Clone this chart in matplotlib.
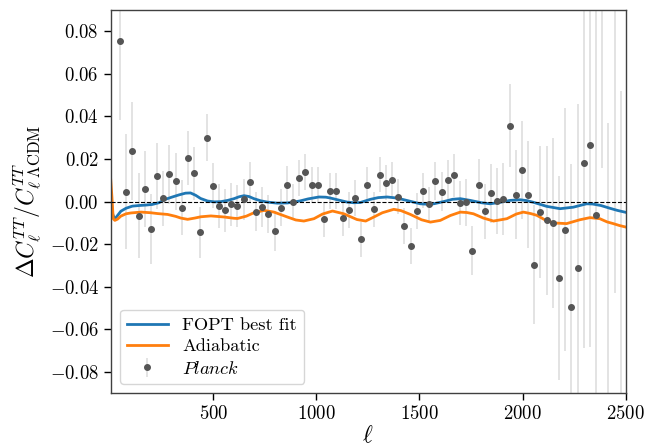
import numpy as np
import matplotlib
matplotlib.use("Agg")
import matplotlib.pyplot as plt

plt.rcParams['font.family'] = 'serif'
plt.rcParams['font.serif'] = ['cmr10', 'DejaVu Serif']
plt.rcParams['mathtext.fontset'] = 'cm'
plt.rcParams['axes.formatter.use_mathtext'] = True
plt.rcParams['axes.unicode_minus'] = True

# model curves
ell_fopt = [2, 12, 22, 35, 51, 76, 107, 140, 172, 204, 236, 270, 301, 334, 365, 389,
            414, 438, 472, 505, 536, 570, 600, 625, 649, 673, 697, 730, 762, 810, 859,
            890, 923, 960, 1012, 1046, 1068, 1110, 1149, 1180, 1213, 1262, 1300, 1343,
            1391, 1450, 1504, 1540, 1569, 1620, 1660, 1698, 1746, 1800, 1843, 1891, 1940,
            1988, 2020, 2053, 2117, 2182, 2246, 2311, 2340, 2380, 2424, 2460, 2500]
dcl_fopt = [0.002, -0.006, -0.0082, -0.0065, -0.0045, -0.0031, -0.0021, -0.0018, -0.0016,
            -0.0013, -0.0005, 0.0012, 0.0022, 0.0032, 0.0040, 0.0041, 0.0030, 0.0015,
            0.0003, -0.0001, 0.0, 0.0006, 0.0014, 0.0023, 0.0028, 0.0024, 0.0014, 0.0004,
            -0.0002, -0.0007, -0.0006, -0.0002, 0.0004, 0.0013, 0.0022, 0.0021, 0.0017,
            0.0007, -0.0002, -0.0005, -0.0004, 0.0011, 0.0019, 0.0022, 0.0017, 0.0003,
            -0.0010, -0.0012, -0.0010, 0.0001, 0.0011, 0.0014, 0.0006, -0.0005, -0.0010,
            -0.0003, 0.0006, 0.0009, 0.0005, -0.0003, -0.0022, -0.0033, -0.0026, -0.0010,
            -0.0011, -0.0018, -0.0031, -0.0041, -0.0050]

ell_adia = [2, 8, 14, 22, 35, 51, 76, 100, 149, 196, 230, 278, 317, 342, 375, 410, 439,
            488, 552, 600, 617, 660, 697, 746, 794, 859, 900, 939, 988, 1030, 1078, 1133,
            1197, 1239, 1279, 1320, 1375, 1410, 1456, 1510, 1553, 1601, 1650, 1698, 1730,
            1762, 1810, 1859, 1924, 1970, 2004, 2040, 2069, 2110, 2150, 2214, 2278, 2327,
            2375, 2410, 2440, 2470, 2500]
dcl_adia = [0.0103, 0.002, -0.0080, -0.0088, -0.0082, -0.0068, -0.0057, -0.0053, -0.0049,
            -0.0052, -0.0056, -0.0060, -0.0069, -0.0077, -0.0083, -0.0077, -0.0071, -0.0067,
            -0.0072, -0.0078, -0.0079, -0.0068, -0.0052, -0.0041, -0.0049, -0.0072, -0.0086,
            -0.0091, -0.0080, -0.0058, -0.0044, -0.0057, -0.0084, -0.0091, -0.0072, -0.0052,
            -0.0036, -0.0042, -0.0060, -0.0085, -0.0096, -0.0088, -0.0065, -0.0049, -0.0051,
            -0.0057, -0.0077, -0.0091, -0.0080, -0.0058, -0.0049, -0.0056, -0.0064, -0.0086,
            -0.0100, -0.0103, -0.0085, -0.0075, -0.0080, -0.0095, -0.0103, -0.0112, -0.0119]

# binned Planck residuals
ell_planck = [47, 77, 107, 137, 167, 197, 227, 257, 287, 317, 347, 377, 407, 437, 467,
              497, 527, 557, 587, 617, 647, 677, 707, 737, 767, 797, 827, 857, 887, 917,
              947, 977, 1007, 1037, 1067, 1097, 1127, 1157, 1187, 1217, 1247, 1277, 1307,
              1337, 1367, 1397, 1427, 1457, 1487, 1517, 1547, 1577, 1607, 1637, 1667, 1697,
              1727, 1757, 1787, 1817, 1847, 1877, 1907, 1937, 1967, 1997, 2027, 2057, 2087,
              2117, 2147, 2177, 2207, 2237, 2267, 2297, 2327, 2357, 2387, 2417, 2447, 2477]
dcl_planck = [0.0753, 0.0047, 0.0240, -0.0066, 0.0059, -0.0128, 0.0121, 0.0016, 0.0128,
              0.0096, -0.0028, 0.0204, 0.0133, -0.0144, 0.0301, 0.0075, -0.0020, -0.0041,
              -0.0013, -0.0020, 0.0011, 0.0091, -0.0047, -0.0025, -0.0058, -0.0139, -0.0028,
              0.0080, -0.0002, 0.0111, 0.0139, 0.0080, 0.0080, -0.0083, 0.0050, 0.0050,
              -0.0078, -0.0039, 0.0017, -0.0177, 0.0080, -0.0036, 0.0127, 0.0089, 0.0102,
              0.0023, -0.0116, -0.0208, -0.0044, 0.0052, -0.0013, 0.0096, 0.0047, 0.0103,
              0.0124, -0.0006, -0.0003, -0.0230, 0.0080, -0.0045, 0.0039, 0.0003, 0.0013,
              0.0357, 0.0033, 0.0147, 0.0033, -0.0296, -0.0050, -0.0088, -0.0099, -0.0359,
              -0.0132, -0.0495, -0.0312, 0.0183, 0.0268, -0.0064, 0.131, -0.098, 0.102, -0.103]
err_planck = [0.037, 0.027, 0.023, 0.020, 0.018, 0.0165, 0.0155, 0.013, 0.014, 0.0133,
              0.013, 0.0127, 0.0125, 0.012, 0.011, 0.0107, 0.0104, 0.0102, 0.010, 0.0098,
              0.0096, 0.0095, 0.0092, 0.0092, 0.009, 0.0095, 0.0088, 0.0087, 0.0086, 0.0085,
              0.0085, 0.0083, 0.0083, 0.0083, 0.0083, 0.0083, 0.0083, 0.0083, 0.0083, 0.0083,
              0.0083, 0.0083, 0.0083, 0.0083, 0.0083, 0.0083, 0.0084, 0.0084, 0.0084, 0.0084,
              0.0084, 0.0088, 0.009, 0.0095, 0.010, 0.0105, 0.011, 0.0115, 0.012, 0.013,
              0.014, 0.0155, 0.017, 0.0195, 0.021, 0.023, 0.025, 0.028, 0.031, 0.035, 0.040,
              0.048, 0.057, 0.067, 0.077, 0.087, 0.095, 0.105, 0.115, 0.135, 0.145, 0.155]

fig = plt.figure(figsize=(6.46, 4.47), dpi=100)
ax = fig.add_axes([0.1714, 0.1201, 0.797, 0.8575])

ax.plot(ell_fopt, dcl_fopt, color='#1f77b4', lw=2.0, label='FOPT best fit', zorder=2)
ax.plot(ell_adia, dcl_adia, color='#ff7f0e', lw=2.0, label='Adiabatic', zorder=2)
eb = ax.errorbar(ell_planck, dcl_planck, yerr=err_planck, fmt='o', color='#555555',
                 ecolor='#e0e0e0', elinewidth=1.3, ms=4.0, label=r'$Planck$', zorder=1)
eb[0].set_zorder(4)
ax.axhline(0, color='k', ls='--', lw=0.8, zorder=3)

ax.set_xlim(2, 2500)
ax.set_ylim(-0.09, 0.09)
ax.set_xticks([500, 1000, 1500, 2000, 2500])
ax.set_yticks([-0.08, -0.06, -0.04, -0.02, 0.0, 0.02, 0.04, 0.06, 0.08])
ax.yaxis.set_major_formatter(matplotlib.ticker.FuncFormatter(
    lambda v, p: r'$%.2f$' % v))
ax.tick_params(labelsize=13.5, length=5, width=1, direction='out')
for s in ax.spines.values():
    s.set_color('0.25')
    s.set_linewidth(1.0)

ax.set_xlabel(r'$\ell$', fontsize=17, labelpad=1)
ax.set_ylabel(r'$\Delta C_\ell^{TT}/C_{\ell\ \Lambda{\rm CDM}}^{TT}$', fontsize=17, labelpad=4)

ax.legend(loc='lower left', fontsize=13.2, frameon=True, borderaxespad=0.5,
          handlelength=2.2, labelspacing=0.3, borderpad=0.4)

fig.savefig('out.png', dpi=100)
